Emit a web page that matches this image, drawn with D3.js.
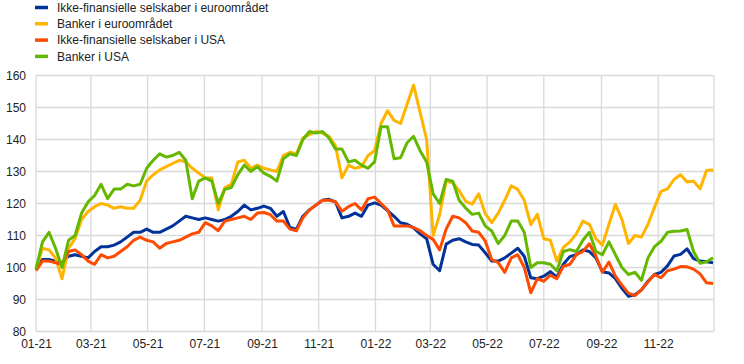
<!DOCTYPE html>
<meta charset="utf-8">
<style>
    body { margin: 0; background: #fff; }
    svg text { font-family: Arial, "Liberation Sans", sans-serif; font-size: 12px; fill: #222; }
</style>
<body>
<script src="https://cdn.jsdelivr.net/npm/d3@7"></script>
<script>

// weekly observations, first one on 1 Jan 2021
var startDate = "2021-01-01";
var stepDays = 7;

var euroNonFin = [100,102.5,102.5,102,101.5,103.5,104,103.5,103,105,106.5,106.5,107,108,109.5,111,111,112,111,111,112,113,114.5,116,115.5,115,115.5,
  115,114.5,115,116,117.5,119.5,118,118.5,119.2,118.5,116,117.5,112.5,112,116,118,119.5,121,121.3,120.5,115.5,116,117,116,119.5,
  120.2,119.5,117.8,116,114,113.5,112.4,110.5,109,101,99,107.3,108.5,109,108,107.2,107,104.6,102,102,103,104.5,106,103.5,96.8,96.5,
  97.3,98.7,97,101,103.4,104,105.5,105,103,98.7,98.3,96.5,93.5,91,91.5,93,95.7,97.8,98.5,100.5,103.6,104.1,105.8,102.8,102,101.8,101.5];

var euroBanks = [99.5,106,105.5,103,96.5,106,109,115,117.5,119,120,119.5,118.5,119,118.5,118.5,121,127,129,130.5,131.5,132.5,133.5,133,131,129.5,128,
  128,118,125,126,133,133.5,131,132,131,130.5,130,135,136,135.5,140.5,141.5,142.5,142,141,138,128,132,131,131.5,135,
  136.5,145,149,146,145,151,157,148.5,140,110,116.5,127,126.5,124,120.7,119.8,123,116.8,114,117,121,125.5,124.4,121,113.4,116.6,
  109,108.5,102,106.3,108,110.5,114.5,113.5,109,107,113.5,119.7,115,107.5,110,109.5,113.5,118.8,123.8,124.6,127.5,129,126.7,127,124.6,130.3,130.5];

var usNonFin = [99,102,102,101.5,101,105,105.5,104,102,101,104,103,103.5,105,106.5,108.5,109.5,108.5,108,106,107.5,108,108.5,109.5,110.5,111,114,
  113,111.5,114.5,115,115.5,116,115,117,117.2,116.5,114.5,114.5,112,111.5,115.5,118,119.5,121,121,120.5,117.6,119,120,118,121.5,
  122,120,118,113,113,113,112.5,111.5,110,108.8,105.5,112,116,115.5,114,111.4,111,108.3,102.5,101.5,98.5,103,104,100,92.1,96.5,
  95.7,97.6,96.5,100.4,101,104,105,107.4,103.6,98.5,101.7,97.3,94.5,92,91.2,93,95.5,97.8,96.8,99,99.5,100.3,100.2,99.5,98,95.2,95];

var usBanks = [99.5,108,111,106,100,108.5,110,117,120.5,122.5,126,121.5,124.5,124.5,126,125.5,126,131,133.5,135.5,134.5,135,136,133.5,121.5,127,128,
  127,120,124.4,125,129,132,130,131.5,129.5,128.5,127,134,135.5,135,140,142.5,142,142.5,140.5,137,137,133,133.5,132,131,
  133,144,144,134,134.3,139,141,136.5,133,123,120,127.5,127,121,118.6,116.6,117,113,111.4,107.5,110,114.5,114.5,111,100,101.5,
  101.5,101,99,105,105.6,105,108.5,111,105,104,108,104,100,97.8,98.5,96,103,106.5,108.2,111,111.3,111.4,111.9,105,101.3,101.8,103];

var seriesNames = ["Ikke-finansielle selskaber i euroområdet", "Banker i euroområdet",
  "Ikke-finansielle selskaber i USA", "Banker i USA"];
var seriesColors = ["#003299", "#ffb400", "#ff4b00", "#65b800"];
var yTicks = [80, 90, 100, 110, 120, 130, 140, 150, 160];
var xTickLabels = ["01-21","03-21","05-21","07-21","09-21","11-21","01-22","03-22","05-22","07-22","09-22","11-22"];

var width = 744, height = 364;
var margin = {top: 75.5, right: 30, bottom: 32.5, left: 36};

var parse = d3.timeParse("%Y-%m-%d");
var start = parse(startDate);
var dates = euroNonFin.map(function(d, i) { return d3.timeDay.offset(start, i * stepDays); });

var x = d3.scaleTime()
    .domain([start, parse("2022-12-31")])
    .range([margin.left, width - margin.right]);

var y = d3.scaleLinear()
    .domain([80, 160])
    .range([height - margin.bottom, margin.top]);

var svg = d3.select("body").append("svg")
    .attr("width", width)
    .attr("height", height);

var tickDates = xTickLabels.map(function(s) { return d3.timeParse("%m-%y")(s); });

// grid
svg.append("g")
    .selectAll("line")
    .data(yTicks)
  .enter().append("line")
    .attr("x1", margin.left).attr("x2", width - margin.right)
    .attr("y1", function(d) { return y(d); }).attr("y2", function(d) { return y(d); })
    .attr("stroke", "#d9d9d9").attr("stroke-width", 1.3);

svg.append("g")
    .selectAll("line")
    .data(tickDates.concat([parse("2022-12-31")]))
  .enter().append("line")
    .attr("x1", function(d) { return x(d); }).attr("x2", function(d) { return x(d); })
    .attr("y1", y(160)).attr("y2", y(80))
    .attr("stroke", "#d9d9d9").attr("stroke-width", 1.3);

// axes
var yAxis = svg.append("g")
    .attr("transform", "translate(" + (margin.left - 10) + ",0)")
    .call(d3.axisLeft(y).tickValues(yTicks).tickSize(0).tickPadding(0));
yAxis.select(".domain").remove();

var xAxis = svg.append("g")
    .attr("transform", "translate(0," + (y(80) + 8) + ")")
    .call(d3.axisBottom(x).tickValues(tickDates).tickSize(0).tickPadding(0)
      .tickFormat(function(d, i) { return xTickLabels[i]; }));
xAxis.select(".domain").remove();

svg.selectAll(".tick text").style("font-family", "Arial, 'Liberation Sans', sans-serif")
    .style("font-size", "12px").attr("fill", "#222");

// lines
var allSeries = [euroNonFin, euroBanks, usNonFin, usBanks];
var line = d3.line()
    .x(function(d, i) { return x(dates[i]); })
    .y(function(d) { return y(d); })
    .curve(d3.curveLinear);

svg.append("g")
    .selectAll("path")
    .data(allSeries)
  .enter().append("path")
    .attr("d", function(d) { return line(d); })
    .attr("fill", "none")
    .attr("stroke", function(d, i) { return seriesColors[i]; })
    .attr("stroke-width", 3)
    .attr("stroke-linejoin", "round");

// legend
var legend = svg.append("g")
    .selectAll("g")
    .data(seriesNames)
  .enter().append("g")
    .attr("transform", function(d, i) { return "translate(35," + (7.5 + i * 16.3) + ")"; });

legend.append("line")
    .attr("x1", 0).attr("x2", 13)
    .attr("stroke", function(d, i) { return seriesColors[i]; })
    .attr("stroke-width", 3.5);

legend.append("text")
    .attr("x", 22)
    .attr("dy", "0.35em")
    .text(function(d) { return d; });

</script>
</body>
